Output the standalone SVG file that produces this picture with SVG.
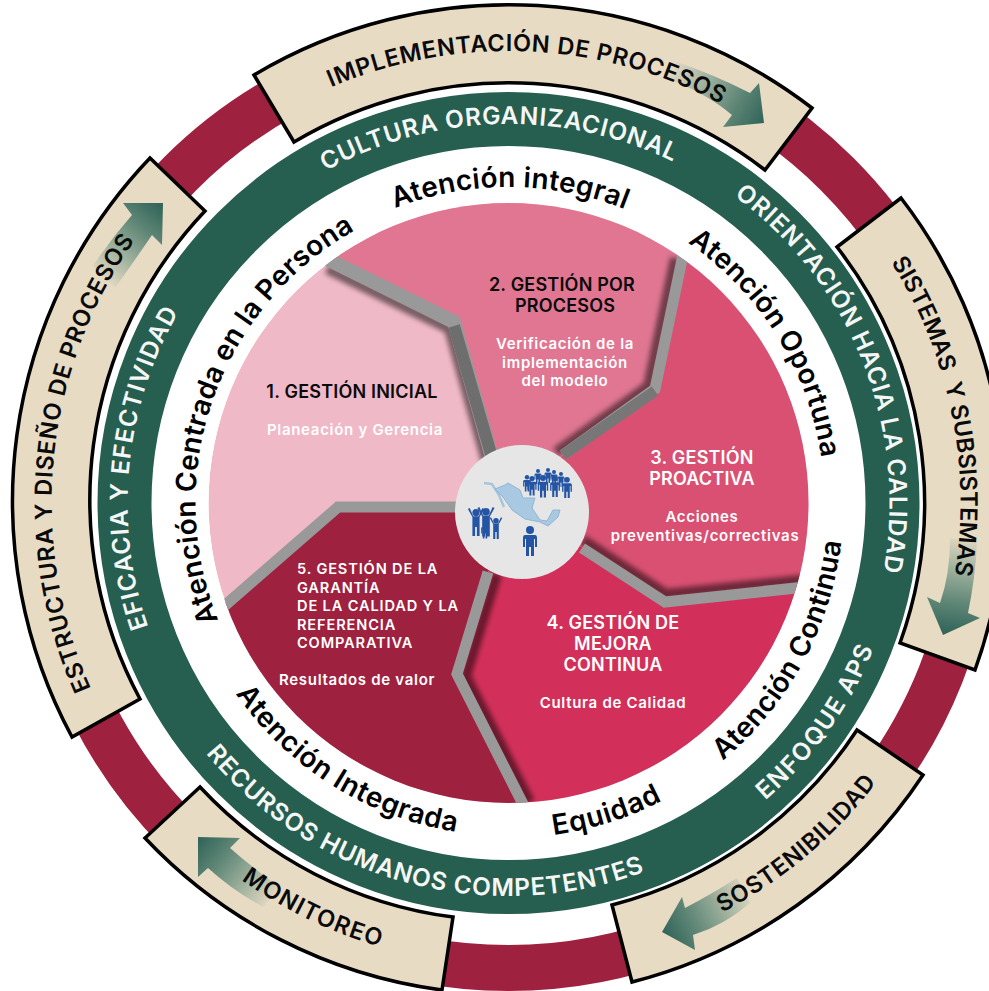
<svg xmlns="http://www.w3.org/2000/svg" width="989" height="991" viewBox="0 0 989 991">
<style>
text{font-family:"Inter","Liberation Sans",sans-serif;font-weight:600}
.seg{fill:#E8DBC4;stroke:#000;stroke-width:3.5;stroke-linejoin:miter}
.s{font-size:23.5px;fill:#0a0a0a;text-anchor:middle;white-space:pre;letter-spacing:.7px}
.g{font-size:24.5px;fill:#F4F7F5;text-anchor:middle;letter-spacing:.8px}
.a{font-size:28px;fill:#000;text-anchor:middle;letter-spacing:.3px}
.ti{font-size:18px;text-anchor:middle;letter-spacing:.2px}
.su{font-size:15px;fill:#fff;text-anchor:middle;letter-spacing:.7px}
.f5{font-size:14.6px;letter-spacing:.85px}
.w{fill:#fff}
.k{fill:#0a0a0a}
.band{fill:none;stroke:#999;stroke-width:12;stroke-linejoin:miter}
.sh{fill:none;stroke:#000;stroke-opacity:.5;stroke-width:10;filter:url(#blur)}
.blue{fill:#2455A4}
</style>
<defs>
<filter id="blur" x="-20%" y="-20%" width="140%" height="140%"><feGaussianBlur stdDeviation="2.6"/></filter>
<clipPath id="pie"><circle cx="508.5" cy="503" r="300"/></clipPath>
<path id="t452" d="M56.5,503A452,452 0 0 1 960.5,503"/>
<path id="t457" d="M51.5,503A457,457 0 0 1 965.5,503"/>
<path id="b462" d="M46.5,503A462,462 0 0 0 970.5,503"/>
<path id="t379" d="M129.5,503A379,379 0 0 1 887.5,503"/>
<path id="t381" d="M127.5,503A381,381 0 0 1 889.5,503"/>
<path id="b393" d="M115.5,503A393,393 0 0 0 901.5,503"/>
<path id="t316" d="M192.5,503A316,316 0 0 1 824.5,503"/>
<path id="t313" d="M195.5,503A313,313 0 0 1 821.5,503"/>
<path id="b335" d="M173.5,503A335,335 0 0 0 843.5,503"/>
<path id="b333" d="M175.5,503A333,333 0 0 0 841.5,503"/>
<linearGradient id="ar1" gradientUnits="userSpaceOnUse" x1="670" y1="68" x2="762" y2="122"><stop offset="0" stop-color="#E8DBC4"/><stop offset=".3" stop-color="#A9B8A4"/><stop offset=".7" stop-color="#5F8676"/><stop offset="1" stop-color="#33665A"/></linearGradient>
<linearGradient id="ar2" gradientUnits="userSpaceOnUse" x1="964" y1="535" x2="950" y2="632"><stop offset="0" stop-color="#E8DBC4"/><stop offset=".3" stop-color="#A9B8A4"/><stop offset=".7" stop-color="#5F8676"/><stop offset="1" stop-color="#33665A"/></linearGradient>
<linearGradient id="ar3" gradientUnits="userSpaceOnUse" x1="752" y1="888" x2="664" y2="932"><stop offset="0" stop-color="#E8DBC4"/><stop offset=".3" stop-color="#A9B8A4"/><stop offset=".7" stop-color="#5F8676"/><stop offset="1" stop-color="#33665A"/></linearGradient>
<linearGradient id="ar4" gradientUnits="userSpaceOnUse" x1="275" y1="900" x2="200" y2="840"><stop offset="0" stop-color="#E8DBC4"/><stop offset=".3" stop-color="#A9B8A4"/><stop offset=".7" stop-color="#5F8676"/><stop offset="1" stop-color="#33665A"/></linearGradient>
<linearGradient id="ar5" gradientUnits="userSpaceOnUse" x1="100" y1="280" x2="160" y2="206"><stop offset="0" stop-color="#E8DBC4"/><stop offset=".3" stop-color="#A9B8A4"/><stop offset=".7" stop-color="#5F8676"/><stop offset="1" stop-color="#33665A"/></linearGradient>
<g id="p"><circle cx="0" cy="4" r="4"/><path d="M-5,9H5Q7,9 7,12V21H5V13H4V30H1V21H-1V30H-4V13H-5V21H-7V12Q-7,9 -5,9Z"/></g>
<g id="pa"><circle cx="0" cy="4" r="4"/><path d="M-4,9L-9,0L-7,-1L-3,8H3L7,-1L9,0L4,9V30H1V20H-1V30H-4Z"/></g>
</defs>

<g id="outer-ring"><circle cx="508.5" cy="503" r="465" fill="none" stroke="#9E213F" stroke-width="46"/></g>
<g id="green-ring"><circle cx="508.5" cy="503" r="384" fill="none" stroke="#265E50" stroke-width="54"/></g>

<g id="pie-wedges" clip-path="url(#pie)">
<circle id="wedge-1" cx="508.5" cy="503" r="300" fill="#F0B9C7"/>
<polygon id="wedge-2" fill="#E07692" points="332,262 454,322 491,454 522,512 563,455 655,389 682,261 740,100 280,100"/>
<polygon id="wedge-3" fill="#D95072" points="682,261 655,389 563,455 522,512 583,548 665,602 806,588 900,588 900,100 740,100"/>
<polygon id="wedge-4" fill="#D2305A" points="522,512 583,548 665,602 806,588 900,588 900,900 540,900 521,800 457,674 488,572"/>
<polygon id="wedge-5" fill="#9E213F" points="522,512 488,572 457,674 521,800 540,900 100,900 100,640 230,601 338,507 460,507"/>
</g>

<g id="connectors" clip-path="url(#pie)">
<polyline class="sh" transform="translate(-5,7)" points="332,262 454,322 491,454"/>
<polyline class="sh" transform="translate(-7,-3)" points="682,261 655,389 563,455"/>
<polyline class="sh" transform="translate(1,-8)" points="582,548 665,602 810,587"/>
<polyline class="sh" transform="translate(9,2)" points="488,572 457,674 521,800"/>
<polyline class="sh" transform="translate(2,-5)" points="380,507 460,507"/>
<polyline class="band" style="stroke-width:14" points="325,258 454,322 491,454"/>
<polyline class="band" style="stroke-width:11" points="684,250 655,389 563,455"/>
<polyline class="band" style="stroke-width:11" points="582,548 665,602 815,586"/>
<polyline class="band" style="stroke-width:11" points="488,572 457,674 526,810"/>
<polyline class="band" style="stroke-width:11" points="222,608 338,507 460,507"/>
<line x1="454" y1="326" x2="491" y2="454" stroke="#6E6E6E" stroke-width="12"/>
<line x1="655" y1="391" x2="563" y2="455" stroke="#777" stroke-width="11"/>
</g>

<g id="seg-implementacion">
<path class="seg" d="M254,75A497,497 0 0 1 812,108L765,170A420,420 0 0 0 294,142Z"/>
<path fill="url(#ar1)" d="M677,62Q715,75 750,93L759,83L764,123L723,127L732,115Q705,92 665,78Z"/>
<text class="s" transform="rotate(2.5 508.5 503)"><textPath href="#t452" startOffset="50%">IMPLEMENTACIÓN DE PROCESOS</textPath></text>
</g>
<g id="seg-sistemas">
<path class="seg" d="M837,247L901,198A497,497 0 0 1 975,670L900,643A416,416 0 0 0 837,247Z"/>
<path fill="url(#ar2)" d="M950,538Q950,575 940,603L927,597L943,635L980,618L968,613Q975,580 977,543Z"/>
<text class="s" style="letter-spacing:.1px" transform="rotate(78.5 508.5 503)"><textPath href="#t452" startOffset="50%">SISTEMAS  Y SUBSISTEMAS</textPath></text>
</g>
<g id="seg-sostenibilidad">
<path class="seg" d="M857,730L923,775A497,497 0 0 1 632,982L612,905A416,416 0 0 0 857,730Z"/>
<path fill="url(#ar3)" d="M737,878Q710,895 685,908L682,897L662,932L695,950L693,935Q725,925 750,903Z"/>
<text class="s" transform="rotate(-40.2 508.5 503)"><textPath href="#b462" startOffset="50%">SOSTENIBILIDAD</textPath></text>
</g>
<g id="seg-monitoreo">
<path class="seg" d="M200,787L145,838A497,497 0 0 0 442,990L453,917A418,418 0 0 1 200,787Z"/>
<path fill="url(#ar4)" d="M198,837L240,838L230,848Q255,870 280,887L263,907Q232,890 208,868L198,877Z"/>
<text class="s" style="letter-spacing:1.2px" transform="rotate(25.7 508.5 503)"><textPath href="#b462" startOffset="50%">MONITOREO</textPath></text>
</g>
<g id="seg-estructura">
<path class="seg" d="M140,699L72,737A497,497 0 0 1 150,158L205,211A420,420 0 0 0 140,699Z"/>
<path fill="url(#ar5)" d="M163,203L123,203L132,215Q110,240 93,266L115,288Q135,260 152,235L162,245Z"/>
<text class="s" transform="rotate(275.6 508.5 503)"><textPath href="#t457" startOffset="50%">ESTRUCTURA Y DISEÑO DE PROCESOS</textPath></text>
</g>

<g id="green-labels">
<text class="g" transform="rotate(-1.5 508.5 503)"><textPath href="#t379" startOffset="50%">CULTURA ORGANIZACIONAL</textPath></text>
<text class="g" transform="rotate(68.4 508.5 503)"><textPath href="#t381" startOffset="50%">ORIENTACIÓN HACIA LA CALIDAD</textPath></text>
<text class="g" style="letter-spacing:1.4px" transform="rotate(-54.6 508.5 503)"><textPath href="#b393" startOffset="50%">ENFOQUE APS</textPath></text>
<text class="g" transform="rotate(15 508.5 503)"><textPath href="#b393" startOffset="50%">RECURSOS HUMANOS COMPETENTES</textPath></text>
<text class="g" style="letter-spacing:1px" transform="rotate(275.6 508.5 503)"><textPath href="#t381" startOffset="50%">EFICACIA Y EFECTIVIDAD</textPath></text>
</g>

<g id="attention-labels">
<text class="a" transform="rotate(0.3 508.5 503)"><textPath href="#t316" startOffset="50%">Atención integral</textPath></text>
<text class="a" transform="rotate(58.2 508.5 503)"><textPath href="#t316" startOffset="50%">Atención Oportuna</textPath></text>
<text class="a" transform="rotate(-61.6 508.5 503)"><textPath href="#b335" startOffset="50%">Atención Continua</textPath></text>
<text class="a" style="letter-spacing:.8px" transform="rotate(-17.6 508.5 503)"><textPath href="#b335" startOffset="50%">Equidad</textPath></text>
<text class="a" style="letter-spacing:.6px" transform="rotate(32 508.5 503)"><textPath href="#b333" startOffset="50%">Atención Integrada</textPath></text>
<text class="a" transform="rotate(289.3 508.5 503)"><textPath href="#t313" startOffset="50%">Atención Centrada en la Persona</textPath></text>
</g>

<g id="node-1">
<text class="ti k" x="352" y="398">1. GESTIÓN INICIAL</text>
<text class="su" x="355" y="435">Planeación y Gerencia</text>
</g>
<g id="node-2">
<text class="ti k" x="562" y="291">2. GESTIÓN POR</text>
<text class="ti k" x="565" y="312">PROCESOS</text>
<text class="su" x="565" y="349">Verificación de la</text>
<text class="su" x="565" y="368">implementación</text>
<text class="su" x="565" y="386">del modelo</text>
</g>
<g id="node-3">
<text class="ti w" x="702" y="464">3. GESTIÓN</text>
<text class="ti w" x="702" y="485">PROACTIVA</text>
<text class="su" x="702" y="522">Acciones</text>
<text class="su" x="705" y="541">preventivas/correctivas</text>
</g>
<g id="node-4">
<text class="ti w" x="613" y="629">4. GESTIÓN DE</text>
<text class="ti w" x="613" y="650">MEJORA</text>
<text class="ti w" x="613" y="671">CONTINUA</text>
<text class="su" x="613" y="708">Cultura de Calidad</text>
</g>
<g id="node-5">
<text class="w f5" x="297" y="574">5. GESTIÓN DE LA</text>
<text class="w f5" x="297" y="592.5">GARANTÍA</text>
<text class="w f5" x="297" y="611">DE LA CALIDAD Y LA</text>
<text class="w f5" x="297" y="629.5">REFERENCIA</text>
<text class="w f5" x="297" y="648">COMPARATIVA</text>
<text class="su" style="text-anchor:start" x="279" y="685">Resultados de valor</text>
</g>

<g id="hub">
<circle cx="522" cy="512" r="67" fill="#E6E6E6"/>
<path d="M484,483L492,484L499,495L504,507" fill="none" stroke="#A4C4DE" stroke-width="2.4"/>
<path d="M495,489L505,485L508,483L520,490L523,498L535,498L532,508L540,520L547,521L553,510L560,510L558,517L548,526L540,522L525,519L512,510L503,497Z" fill="#A9C8E2" stroke="#8FB6D6" stroke-width="1"/>
<g class="blue">
<use href="#p" transform="translate(530,526) scale(1)"/>
<use href="#p" transform="translate(538,469) scale(.5)"/>
<use href="#p" transform="translate(548,468) scale(.5)"/>
<use href="#p" transform="translate(554,470) scale(.5)"/>
<use href="#p" transform="translate(532,476) scale(.65)"/>
<use href="#p" transform="translate(527,475) scale(.55)"/>
<use href="#p" transform="translate(543,475) scale(.75)"/>
<use href="#p" transform="translate(555,476) scale(.7)"/>
<use href="#p" transform="translate(561,472) scale(.5)"/>
<use href="#p" transform="translate(567,477) scale(.7)"/>
<use href="#pa" transform="translate(476,509) scale(.9)"/>
<use href="#pa" transform="translate(486,508) scale(.95)"/>
<use href="#p" transform="translate(485,522) scale(.55)"/>
<use href="#pa" transform="translate(496,518) scale(.7)"/>
</g>
</g>
</svg>
